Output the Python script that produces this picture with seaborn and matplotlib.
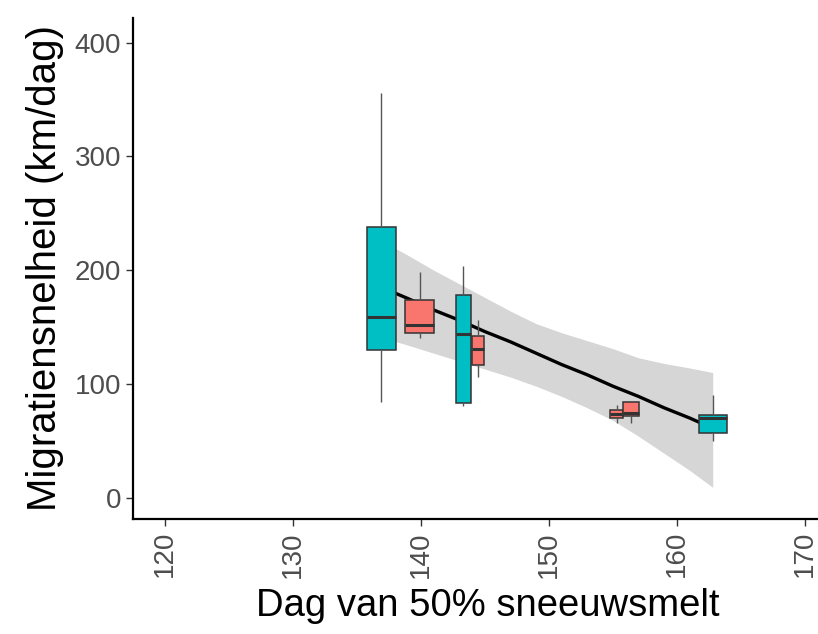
import matplotlib
matplotlib.use('Agg')
import matplotlib.pyplot as plt
import seaborn as sns
import pandas as pd

# box summaries: low whisker, q1, median, q3, high whisker
box_x = [136.9, 139.9, 143.3, 144.45, 155.3, 156.4, 162.8]
box_width = [2.27, 2.3, 1.17, 1.0, 1.04, 1.2, 2.2]
box_group = ['teal', 'red', 'teal', 'red', 'red', 'red', 'teal']
box_low = [84, 140, 81, 106, 66, 66, 50]
box_q1 = [130, 145, 83.4, 117, 70, 71.4, 57]
box_med = [159, 151.5, 143.6, 131, 73.7, 74.3, 70]
box_q3 = [238, 174, 178.6, 142, 77.5, 83.7, 73]
box_high = [356, 198, 204, 156, 81.7, 83.7, 90]

# smoother and its confidence band
smooth_x = [136.9, 139, 141, 143, 145, 147, 149, 151, 153, 155, 157, 159, 161, 162.8]
smooth_y = [185, 175, 165, 156, 146, 137, 127, 117, 108, 98, 89, 79, 70, 61]
smooth_lo = [141, 134, 127, 120, 113, 106, 98, 89, 79, 68, 54, 39, 24, 9]
smooth_hi = [226, 213, 200, 188, 176, 164, 153, 145, 138, 131, 123, 118, 114, 110]

colors = {'teal': '#00BFC4', 'red': '#F8766D'}

sns.set_style('white')
plt.rcParams['font.family'] = ['Liberation Sans', 'DejaVu Sans']

fig = plt.figure(figsize=(8.18, 6.34), dpi=100)
ax = fig.add_axes([0.1626, 0.181, 0.837, 0.791])

smooth = pd.DataFrame({'x': smooth_x, 'y': smooth_y})
ax.fill_between(smooth_x, smooth_lo, smooth_hi, color='#D6D6D6', linewidth=0, zorder=1)
sns.lineplot(data=smooth, x='x', y='y', color='black', linewidth=2.4, ax=ax, zorder=2)

for i in range(len(box_x)):
    vals = [box_low[i], box_q1[i], box_med[i], box_q3[i], box_high[i]]
    df = pd.DataFrame({'x': [box_x[i]] * 5, 'y': vals})
    sns.boxplot(data=df, x='x', y='y', native_scale=True, width=box_width[i],
                color=colors[box_group[i]], saturation=1, linecolor='#333333',
                linewidth=1.1, whis=1.5, showfliers=False,
                medianprops={'linewidth': 2.2, 'color': '#333333'},
                whiskerprops={'color': '#555555', 'linewidth': 1},
                capprops={'linewidth': 0},
                ax=ax, zorder=3)

ax.set_xlim(117.5, 171.0)
ax.set_ylim(-19, 422)
ax.set_xticks([120, 130, 140, 150, 160, 170])
ax.set_yticks([0, 100, 200, 300, 400])
ax.tick_params(axis='both', colors='#333333', length=5, width=1,
               labelcolor='#4D4D4D', labelsize=20, left=True, bottom=True)
ax.tick_params(axis='x', labelrotation=90)
for s in ['top', 'right']:
    ax.spines[s].set_visible(False)
for s in ['left', 'bottom']:
    ax.spines[s].set_color('black')
    ax.spines[s].set_linewidth(1.6)

ax.set_xlabel('Dag van 50% sneeuwsmelt', fontsize=27.5, color='black')
ax.set_ylabel('Migratiensnelheid (km/dag)', fontsize=29, color='black', labelpad=8)
ax.xaxis.set_label_coords(0.518, -0.138)

fig.savefig('out.png', dpi=100)
